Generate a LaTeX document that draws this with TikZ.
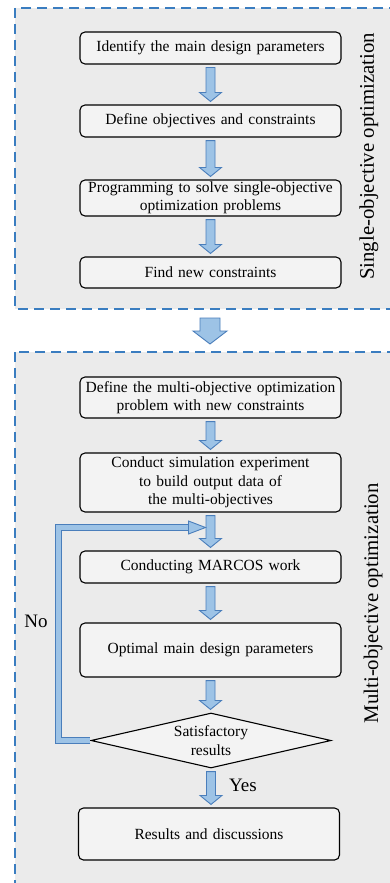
\documentclass[tikz,border=0pt]{standalone}
\usepackage{fontspec}
\setmainfont{Liberation Serif}
\usetikzlibrary{shapes.geometric,calc}
\definecolor{frameblue}{HTML}{3A7DC0}
\definecolor{arrfill}{HTML}{9DC3E6}
\definecolor{arrline}{HTML}{4A7EBB}
\definecolor{regionfill}{HTML}{EBEBEB}
\definecolor{boxfill}{HTML}{F3F3F3}
\tikzset{
  frame/.style={draw=frameblue, line width=2pt, dash pattern=on 10pt off 6pt, fill=regionfill},
  procbox/.style={draw=black, line width=1.1pt, fill=boxfill, rounded corners=5pt,
    text width=261pt, align=center, inner sep=0pt,
    font=\fontsize{15.5}{18.5}\selectfont},
  decision/.style={diamond, draw=black, line width=1.1pt, fill=boxfill, aspect=4.36,
    minimum width=240pt, minimum height=55pt, inner sep=0pt, align=center,
    font=\fontsize{15.5}{18.5}\selectfont},
  sidelabel/.style={rotate=90, font=\fontsize{20.8}{24}\selectfont, inner sep=0pt},
  plainlabel/.style={font=\fontsize{19}{22}\selectfont, inner sep=0pt},
  blockarr/.style={draw=arrline, line width=0.9pt, fill=arrfill, line join=miter},
  loopline/.style={draw=arrline, line width=1pt, double=arrfill, double distance=5pt, line join=miter}
}
% #1 start coord, #2 end coord, #3 shaft half width, #4 head half width, #5 head length
\newcommand\blockarrow[5]{%
  \filldraw[blockarr] let \p1=(#1), \p2=(#2) in
    (\x1-#3,\y1) -- (\x1+#3,\y1) -- (\x1+#3,\y2+#5) -- (\x1+#4,\y2+#5) -- (\x1,\y2)
    -- (\x1-#4,\y2+#5) -- (\x1-#3,\y2+#5) -- cycle;}
\newcommand\linkarrow[2]{%
  \blockarrow{$(#1.south)+(0,-3pt)$}{$(#2.north)+(0,3pt)$}{4.5pt}{11pt}{9pt}}
\begin{document}
\begin{tikzpicture}[x=1pt,y=-1pt]
\useasboundingbox (0,0) rectangle (390,883);
\clip (0,0) rectangle (390,883);
\fill[white] (0,0) rectangle (390,883);
\draw[frame] (15,8) rectangle (402,309);
\draw[frame] (15,352) rectangle (402,900);

\node[procbox, minimum height=32pt] (b1) at (210.5,48) {Identify the main design parameters};
\node[procbox, minimum height=32pt] (b2) at (210.5,121) {Define objectives and constraints};
\node[procbox, minimum height=36pt] (b3) at (210.5,198) {Programming to solve single-objective\\optimization problems};
\node[procbox, minimum height=31pt] (b4) at (210.5,272.5) {Find new constraints};

\node[procbox, minimum height=41pt] (b5) at (210.5,397.5) {Define the multi-objective optimization\\problem with new constraints};
\node[procbox, minimum height=59pt] (b6) at (210.5,482.5) {Conduct simulation experiment\\to build output data of\\the multi-objectives};
\node[procbox, minimum height=32pt] (b7) at (210.5,567) {Conducting MARCOS work};
\node[procbox, minimum height=54pt] (b8) at (210.5,650) {Optimal main design parameters};
\node[decision] (dia) at (211,740.5) {Satisfactory\\results};
\node[procbox, minimum height=52pt] (b9) at (209,834) {Results and discussions};

\node[sidelabel] (s1) at (369,156.5) {Single-objective optimization};
\node[sidelabel] (s2) at (373,603.3) {Multi-objective optimization};

\linkarrow{b1}{b2}
\linkarrow{b2}{b3}
\linkarrow{b3}{b4}
\linkarrow{b5}{b6}
\linkarrow{b6}{b7}
\linkarrow{b7}{b8}
\linkarrow{b8}{dia}
\linkarrow{dia}{b9}

\coordinate (bigA) at (210,318);
\coordinate (bigB) at (210,344);
\blockarrow{bigA}{bigB}{10pt}{17pt}{13pt}

% feedback loop
\coordinate (loopx) at (58,0);
\coordinate (looptip) at (205.5,527.5);
\draw[loopline] (dia.west) -- (dia.west -| loopx) -- (loopx |- looptip) -- ($(looptip)+(-17pt,0)$);
\filldraw[blockarr] (looptip) -- ++(-17pt,6.5pt) -- ++(0,-13pt) -- cycle;

\node[plainlabel] (no) at (36,621.7) {No};
\node[plainlabel] (yes) at (243,785) {Yes};
\end{tikzpicture}
\end{document}
